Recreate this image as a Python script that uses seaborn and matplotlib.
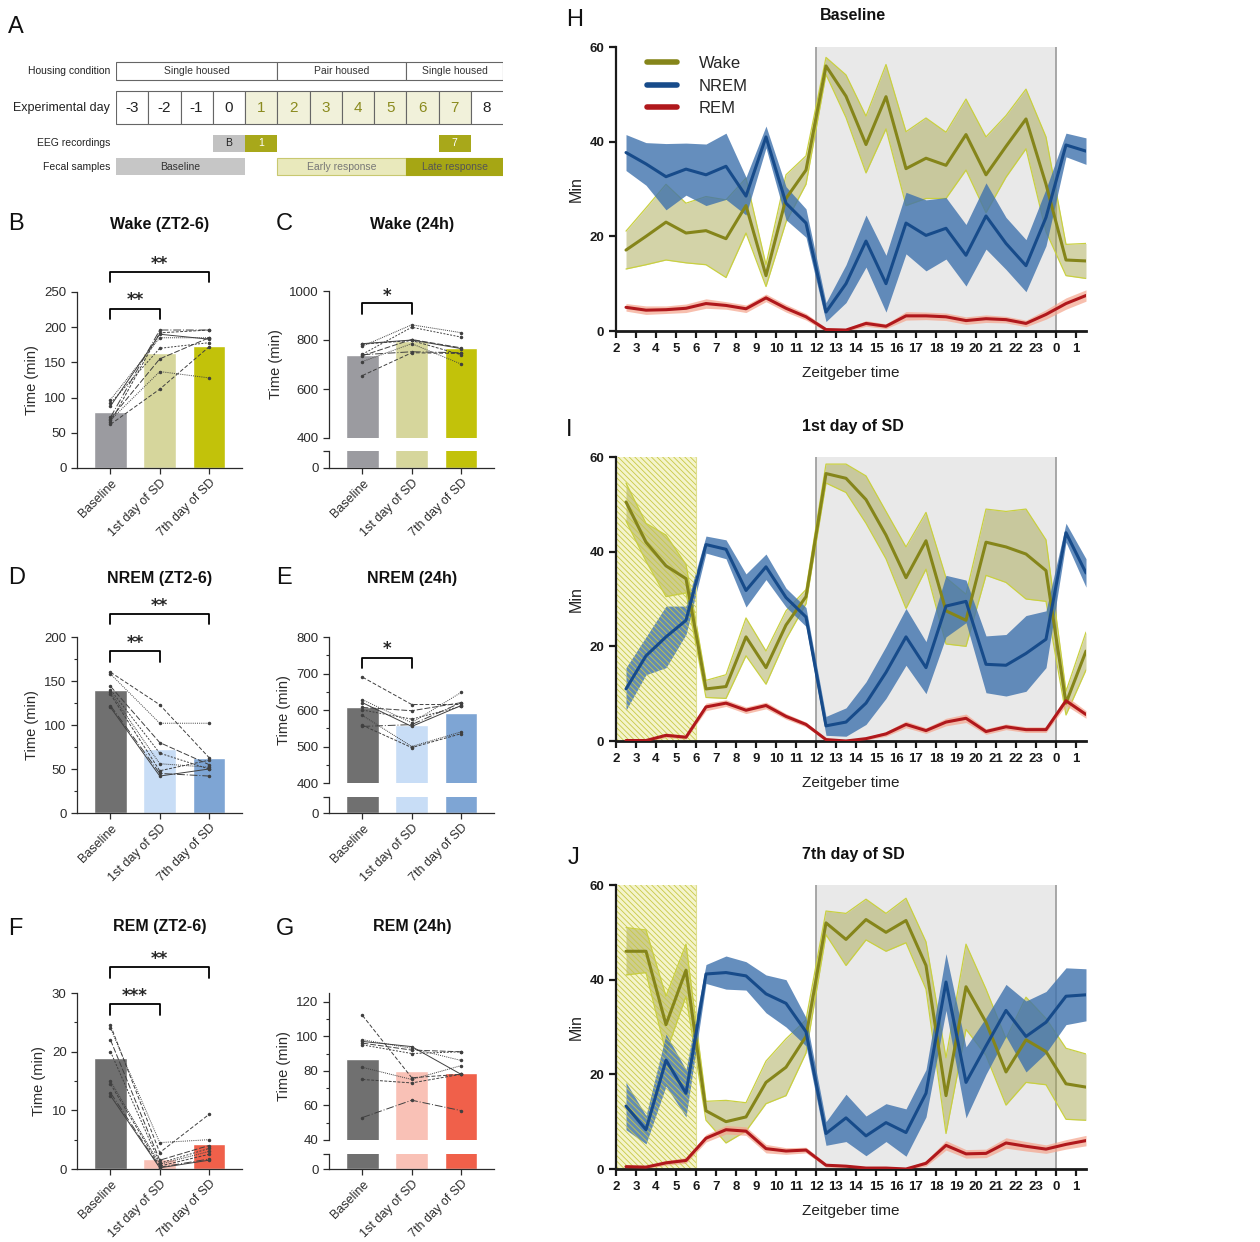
import numpy as np
import pandas as pd
import matplotlib
matplotlib.use('Agg')
import matplotlib.pyplot as plt
import seaborn as sns
from matplotlib.patches import Rectangle
from matplotlib.lines import Line2D

# ---------------- DATA ----------------
conds = ["Baseline", "1st day of SD", "7th day of SD"]

wake_zt_means = [80, 163, 174]
wake_zt_subj = [[62, 112, 172], [68, 137, 128], [70, 155, 185], [92, 170, 178],
                [97, 185, 185], [65, 192, 196], [72, 196, 196], [88, 190, 183]]
wake_24_means = [740, 795, 768]
wake_24_subj = [[655, 748, 745], [712, 785, 702], [736, 802, 768], [742, 852, 812],
                [775, 862, 830], [783, 798, 740], [740, 752, 748], [785, 800, 765]]
nrem_zt_means = [140, 73, 62]
nrem_zt_subj = [[160, 123, 63], [158, 102, 102], [144, 80, 55], [140, 68, 50],
                [137, 56, 52], [135, 48, 60], [122, 45, 42], [120, 42, 50]]
nrem_24_means = [608, 558, 592]
nrem_24_subj = [[690, 615, 615], [628, 565, 648], [607, 598, 620], [600, 575, 610],
                [585, 500, 540], [558, 497, 535], [555, 560, 620], [620, 555, 612]]
rem_zt_means = [19, 1.7, 4.3]
rem_zt_subj = [[24.5, 2.8, 9.3], [24, 4.5, 5], [22, 1.5, 4], [20, 1, 3.5],
               [15, 0.8, 3], [14.5, 0.5, 2.5], [13, 0.3, 1.7], [12.5, 0.2, 1.5]]
rem_24_means = [87, 80, 79]
rem_24_subj = [[112, 76, 78], [98, 93, 86], [96, 92, 91], [95, 90, 91],
               [82, 75, 83], [75, 73, 78], [53, 63, 57], [97, 94, 78]]

zt = [2.5, 3.5, 4.5, 5.5, 6.5, 7.5, 8.5, 9.5, 10.5, 11.5, 12.5, 13.5,
      14.5, 15.5, 16.5, 17.5, 18.5, 19.5, 20.5, 21.5, 22.5, 23.5, 24.5, 25.5]
zt_ticks = list(range(2, 26))
zt_labels = [str(v) for v in range(2, 24)] + ["0", "1"]

# Baseline (H)
h_wake = [17.1, 20, 23, 20.7, 21.2, 19.5, 26.5, 11.7, 28, 34, 56, 49.6,
          39.4, 49.5, 34.3, 36.5, 35, 41.5, 33, 39, 44.8, 31, 15, 14.8]
h_wake_sem = [4, 6, 8, 6.3, 7.2, 8.2, 5.8, 2.3, 5, 3, 1.8, 4.5,
              6, 6.8, 7.8, 8.5, 7, 7.5, 8, 6.5, 6.3, 10, 3.3, 3.7]
h_nrem = [37.7, 35.3, 32.6, 34.2, 33, 34.8, 28.5, 41, 27, 22.8, 4, 10,
          19, 10, 22.8, 20.2, 21.7, 16, 24.3, 18.5, 13.8, 24, 39.3, 38]
h_nrem_sem = [3.8, 4.5, 7, 5.5, 6.5, 7, 4, 2.3, 3.5, 3, 2, 4,
              5.5, 6, 6.5, 7.5, 6.5, 6.5, 7, 5.5, 5.5, 6, 2.5, 2.8]
h_rem = [5, 4.4, 4.5, 4.8, 5.8, 5.4, 4.7, 7, 4.8, 3, 0.3, 0.2,
         1.6, 1, 3.2, 3.2, 3, 2.2, 2.6, 2.4, 1.6, 3.5, 5.8, 7.5]
h_rem_sem = [0.8, 0.9, 0.8, 0.9, 1.0, 0.8, 0.8, 0.8, 0.8, 0.7, 0.4, 0.3,
             0.6, 0.5, 0.9, 0.8, 0.8, 0.8, 0.8, 0.7, 0.7, 1.0, 1.2, 1.2]

# 1st day of SD (I)
i_wake = [50.5, 42, 37, 34.3, 11, 11.5, 22, 15.5, 24.5, 30.5, 56.5, 55.5,
          51, 43.5, 34.5, 42.3, 27.5, 25.5, 42, 41, 39.5, 36, 8, 19]
i_wake_sem = [4, 4, 6.5, 3, 1.8, 2.5, 4, 3.5, 3, 1.5, 2, 3,
              5, 5, 6.5, 6, 7, 5.5, 7, 7.5, 9.5, 6.5, 2.5, 4]
i_nrem = [11, 18, 22, 25.5, 41.5, 40.5, 31.8, 36.8, 30.3, 26.2, 3.2, 4,
          8, 14.5, 22, 15.5, 28.5, 29.5, 16.2, 16, 18.5, 21.5, 44, 35.5]
i_nrem_sem = [4.5, 4, 6.5, 3, 1.8, 2, 3.5, 2.7, 2, 2, 2, 3,
              4.5, 5.5, 6, 5.5, 6.5, 4.5, 6, 6.5, 8, 6, 2, 3]
i_rem = [0.1, 0.1, 1.2, 0.8, 7.2, 8, 6.5, 7.5, 5.2, 3.5, 0.3, 0,
         0.5, 1.5, 3.5, 2.2, 4, 4.8, 2, 3, 2.4, 2.4, 8.5, 5.6]
i_rem_sem = [0.2, 0.2, 0.5, 0.4, 0.8, 0.7, 0.7, 0.7, 0.6, 0.5, 0.3, 0.1,
             0.3, 0.5, 0.7, 0.6, 0.8, 0.9, 0.6, 0.6, 0.6, 0.6, 1.0, 0.8]

# 7th day of SD (J)
j_wake = [46, 46, 30.5, 42, 12.3, 10, 11, 18.3, 21.5, 28, 52, 48.5,
          52.7, 50, 52.5, 43, 15.5, 38.5, 31, 20.5, 27.3, 24.8, 18, 17.3]
j_wake_sem = [5, 4.5, 6, 5.5, 2, 4.5, 3, 4.5, 6, 3.5, 2.5, 5.5,
              4.3, 4, 4.7, 5, 8, 9, 7, 7, 9, 7, 7.5, 7]
j_nrem = [13.3, 8.3, 23, 16, 41.2, 41.5, 40.8, 37, 35, 29, 7.5, 10.8,
          7, 9.8, 7.7, 16, 39.5, 18.3, 26, 33.5, 28, 31, 36.5, 36.8]
j_nrem_sem = [5, 3, 5.5, 5, 2, 3.5, 3, 4, 5, 3, 2.5, 5,
              4.2, 4, 5, 5, 6, 7.5, 6, 5.5, 7.5, 6.5, 6, 5.5]
j_rem = [0.5, 0.4, 1.3, 1.8, 6.5, 8.3, 8, 4.3, 3.8, 4, 0.8, 0.6,
         0.2, 0.2, 0, 1.2, 5, 3.2, 3.3, 5.5, 4.8, 4.2, 5.2, 6]
j_rem_sem = [0.3, 0.3, 0.5, 0.6, 0.8, 0.9, 0.9, 0.9, 0.7, 0.6, 0.4, 0.3,
             0.2, 0.2, 0.2, 0.6, 1.0, 0.9, 0.9, 1.1, 1.0, 0.9, 1.0, 1.1]

# ---------------- STYLE ----------------
W, H = 1260, 1242
sns.set_style("ticks")
plt.rcParams['font.family'] = ['Liberation Sans', 'DejaVu Sans']
plt.rcParams['hatch.linewidth'] = 0.6
fig = plt.figure(figsize=(W / 100, H / 100), dpi=100)


def px_axes(l, t, r, b):
    return fig.add_axes([l / W, 1 - b / H, (r - l) / W, (b - t) / H])


def ptext(x, y, s, **kw):
    fig.text(x / W, 1 - y / H, s, **kw)


DARK = '#2b2b2b'
dash_list = [(0, (4, 2)), (0, (1, 1.2)), (0, (6, 2)), (0, (2, 1.5)),
             (0, (1, 1)), (0, (3, 1.5)), (0, (8, 2, 1, 2)), '-']


def bars(ax, means, colors):
    df = pd.DataFrame({'cond': conds, 'val': means})
    sns.barplot(data=df, x='cond', y='val', hue='cond', palette=colors, ax=ax,
                width=0.66, errorbar=None, legend=False, saturation=1, zorder=1)


def subjects(ax, subj):
    for k, s in enumerate(subj):
        ax.plot([0, 1, 2], s, color='#404040', lw=0.7, ls=dash_list[k],
                marker='o', ms=1.5, zorder=3)


def style_ax(ax):
    sns.despine(ax=ax)
    for sp in ['left', 'bottom']:
        ax.spines[sp].set_color(DARK)
        ax.spines[sp].set_linewidth(0.9)
    ax.tick_params(axis='both', which='major', length=4, width=0.9,
                   colors=DARK, labelsize=9.5)
    ax.tick_params(axis='y', which='minor', length=2.5, width=0.8, colors=DARK)
    ax.set_xlabel('')
    ax.set_xlim(-0.68, 2.67)


def xlabels(ax):
    ax.set_xticks([0, 1, 2])
    ax.set_xticklabels(conds, rotation=45, ha='right', rotation_mode='anchor',
                       fontsize=9, color=DARK)
    ax.tick_params(axis='x', pad=2.5)


def bracket(ax, x0, x1, y, drop, text, ts):
    ax.plot([x0, x0, x1, x1], [y - drop, y, y, y - drop], color='black',
            lw=1.3, clip_on=False, zorder=5)
    ax.annotate(text, xy=((x0 + x1) / 2, ts), xytext=(0, -6.5),
                textcoords='offset points', ha='center', va='baseline',
                fontsize=12, fontweight='bold', family='DejaVu Sans',
                annotation_clip=False)


def simple_panel(l, t, r, b, means, subj, colors, ylim, yticks, minor):
    ax = px_axes(l, t, r, b)
    bars(ax, means, colors)
    subjects(ax, subj)
    style_ax(ax)
    ax.set_ylim(*ylim)
    ax.set_yticks(yticks)
    if minor:
        ax.set_yticks(minor, minor=True)
    ax.set_ylabel('Time (min)', fontsize=10.5, color=DARK)
    xlabels(ax)
    return ax


def r_of(l):
    return l + 165


def broken_panel(l, t, mid, t2, b, means, subj, colors, ylim, yticks, minor):
    ax = px_axes(l, t, r_of(l), mid)
    bars(ax, means, colors)
    subjects(ax, subj)
    style_ax(ax)
    ax.spines['bottom'].set_visible(False)
    ax.tick_params(axis='x', bottom=False, labelbottom=False)
    ax.set_ylim(*ylim)
    ax.set_yticks(yticks)
    if minor:
        ax.set_yticks(minor, minor=True)
    ax.set_ylabel('Time (min)', fontsize=10.5, color=DARK)
    axl = px_axes(l, t2, r_of(l), b)
    bars(axl, means, colors)
    style_ax(axl)
    axl.set_ylim(0, 10)
    axl.set_yticks([0, 10])
    axl.set_yticklabels(['0', ''])
    axl.set_ylabel('')
    xlabels(axl)
    return ax, axl


grey_c = '#9b9ba0'
wake_cols = [grey_c, '#d6d69c', '#c2c20a']
nrem_cols = ['#707070', '#c8ddf6', '#7ea5d4']
rem_cols = ['#707070', '#f9c1b6', '#f0604a']

# B
axB = simple_panel(77, 292, 242, 468, wake_zt_means, wake_zt_subj, wake_cols,
                   (0, 250), [0, 50, 100, 150, 200, 250], None)
bracket(axB, 0, 2, 278, 14, '**', 296)
bracket(axB, 0, 1, 226, 15, '**', 244)
# C
axC, axCl = broken_panel(329, 291, 438, 451, 468, wake_24_means, wake_24_subj,
                         wake_cols, (400, 1000), [400, 600, 800, 1000], None)
bracket(axC, 0, 1, 950, 44, '*', 995)
# D
axD = simple_panel(77, 637, 242, 813, nrem_zt_means, nrem_zt_subj, nrem_cols,
                   (0, 200), [0, 50, 100, 150, 200], [25, 75, 125, 175])
bracket(axD, 0, 2, 226, 11, '**', 240)
bracket(axD, 0, 1, 184, 12, '**', 198)
# E
axE, axEl = broken_panel(329, 637, 783, 797, 813, nrem_24_means, nrem_24_subj,
                         nrem_cols, (400, 800), [400, 500, 600, 700, 800],
                         [450, 550, 650, 750])
bracket(axE, 0, 1, 742, 27, '*', 778)
# F
axF = simple_panel(77, 993, 242, 1169, rem_zt_means, rem_zt_subj, rem_cols,
                   (0, 30), [0, 10, 20, 30], [5, 15, 25])
bracket(axF, 0, 2, 34.4, 1.8, '**', 36.5)
bracket(axF, 0, 1, 28.1, 1.8, '***', 30.1)
# G
axG, axGl = broken_panel(329, 993, 1140, 1154, 1169, rem_24_means, rem_24_subj,
                         rem_cols, (40, 125), [40, 60, 80, 100, 120],
                         [50, 70, 90, 110])

titles = [(160, 224, 'Wake (ZT2-6)'), (412, 224, 'Wake (24h)'),
          (160, 578, 'NREM (ZT2-6)'), (412, 578, 'NREM (24h)'),
          (160, 927, 'REM (ZT2-6)'), (412, 927, 'REM (24h)'),
          (853, 15, 'Baseline'), (853, 426, '1st day of SD'),
          (853, 855, '7th day of SD')]
for x, y, s in titles:
    ptext(x, y, s, ha='center', va='center', fontsize=11.5, fontweight='bold',
          color='#111')

letters = [(8, 27, 'A'), (8, 224, 'B'), (276, 224, 'C'), (8, 578, 'D'),
           (276, 578, 'E'), (8, 929, 'F'), (276, 929, 'G'), (566, 20, 'H'),
           (566, 430, 'I'), (568, 858, 'J')]
for x, y, s in letters:
    ptext(x, y, s, ha='left', va='center', fontsize=17, color='#111')

# ---------------- Panel A (schematic) ----------------
axA = px_axes(116, 55, 503, 180)
axA.set_xlim(-3.5, 8.5)
axA.set_ylim(125, 0)
axA.axis('off')
edge = '#666666'
housing = [(-3.5, 1.5, 'Single housed'), (1.5, 5.5, 'Pair housed'),
           (5.5, 8.5, 'Single housed')]
for x0, x1, s in housing:
    axA.add_patch(Rectangle((x0, 7), x1 - x0, 18, fc='white', ec=edge, lw=0.8))
    axA.text((x0 + x1) / 2, 16, s, ha='center', va='center', fontsize=7.5,
             color='#333')
days = [-3, -2, -1, 0, 1, 2, 3, 4, 5, 6, 7, 8]
for d in days:
    sd = 1 <= d <= 7
    if d == 8:
        axA.add_patch(Rectangle((d - 0.5, 36), 1, 33, fc='white', ec='none'))
        axA.plot([d + 0.5, d - 0.5, d - 0.5, d + 0.5], [36, 36, 69, 69],
                 color=edge, lw=0.8)
    else:
        axA.add_patch(Rectangle((d - 0.5, 36), 1, 33,
                                fc='#f1f1da' if sd else 'white', ec=edge, lw=0.8))
    axA.text(d, 52.5, str(d), ha='center', va='center', fontsize=11,
             color='#8a8a1e' if sd else '#222')
eeg = [(0, 'B', '#c2c2c2', '#222'), (1, '1', '#a8a81a', 'white'),
       (7, '7', '#a8a81a', 'white')]
for d, s, fc, tc in eeg:
    axA.add_patch(Rectangle((d - 0.5, 80), 1, 17, fc=fc, ec='none'))
    axA.text(d, 88.5, s, ha='center', va='center', fontsize=7.5, color=tc)
fecal = [(-3.5, 0.5, 'Baseline', '#c6c6c6', 'none', '#333'),
         (1.5, 5.5, 'Early response', '#e9e9bc', '#c8c870', '#777'),
         (5.5, 8.5, 'Late response', '#a6a614', '#a6a614', '#555')]
for x0, x1, s, fc, ec, tc in fecal:
    axA.add_patch(Rectangle((x0, 103), x1 - x0, 17, fc=fc, ec=ec, lw=0.8))
    axA.text((x0 + x1) / 2, 111.5, s, ha='center', va='center', fontsize=7.5,
             color=tc)
rows = [(16, 'Housing condition', 7.5), (52.5, 'Experimental day', 9),
        (88.5, 'EEG recordings', 7.5), (111.5, 'Fecal samples', 7.5)]
for y, s, fs in rows:
    axA.text(-3.68, y, s, ha='right', va='center', fontsize=fs, color='#222',
             clip_on=False)

# ---------------- Time-course panels ----------------
wake_line, wake_fill, wake_edge = '#85851a', '#a8a852', '#c9d040'
nrem_line, nrem_fill = '#174b8a', '#3f72ad'
rem_line, rem_fill = '#b0181c', '#f5a48c'


def ts_panel(t, b, wm, ws, nm, ns, rm, rs, sd, legend=False):
    ax = px_axes(616, t, 1086, b)
    ax.axvspan(12, 24, color='#e9e9e9', lw=0, zorder=0)
    ax.axvline(12, color='#9a9a9a', lw=1.2, zorder=0.5)
    ax.axvline(24, color='#9a9a9a', lw=1.2, zorder=0.5)
    if sd:
        ax.axvspan(2, 6, facecolor='#f4f4cc', lw=0, zorder=0)
    wm, ws = np.array(wm), np.array(ws)
    nm, ns = np.array(nm), np.array(ns)
    rm, rs = np.array(rm), np.array(rs)
    ax.fill_between(zt, wm - ws, wm + ws, color=wake_fill, alpha=0.5, lw=0, zorder=1)
    ax.plot(zt, wm - ws, color=wake_edge, lw=0.9, zorder=1.1)
    ax.plot(zt, wm + ws, color=wake_edge, lw=0.9, zorder=1.1)
    ax.fill_between(zt, nm - ns, nm + ns, color=nrem_fill, alpha=0.8, lw=0, zorder=1.2)
    ax.fill_between(zt, rm - rs, rm + rs, color=rem_fill, alpha=0.7, lw=0, zorder=1.3)
    if sd:
        ax.axvspan(2, 6, facecolor='none', edgecolor='#c8c846',
                   hatch='\\\\\\\\\\\\', lw=0, zorder=1.5)
        ax.axvline(6, ymax=1, color='#dede90', lw=0.8, zorder=1.5)
    sns.lineplot(x=zt, y=wm, ax=ax, color=wake_line, lw=2.2, zorder=3)
    sns.lineplot(x=zt, y=nm, ax=ax, color=nrem_line, lw=2.2, zorder=3)
    sns.lineplot(x=zt, y=rm, ax=ax, color=rem_line, lw=2.2, zorder=3)
    ax.set_xlim(2, 25.5)
    ax.set_ylim(0, 60)
    ax.set_xticks(zt_ticks)
    ax.set_xticklabels(zt_labels)
    ax.set_yticks([0, 20, 40, 60])
    sns.despine(ax=ax)
    ax.spines['left'].set_linewidth(1.6)
    ax.spines['bottom'].set_linewidth(2.0)
    for sp in ['left', 'bottom']:
        ax.spines[sp].set_color('#1a1a1a')
    ax.tick_params(length=5, width=1.6, colors='#1a1a1a', labelsize=9.5)
    for lab in ax.get_xticklabels() + ax.get_yticklabels():
        lab.set_fontweight('bold')
    ax.set_xlabel('Zeitgeber time', fontsize=11, color='#222', labelpad=8)
    ax.set_ylabel('Min', fontsize=11.5, color='#222', labelpad=4)
    if legend:
        handles = [Line2D([], [], color=wake_line, lw=4),
                   Line2D([], [], color=nrem_line, lw=4),
                   Line2D([], [], color=rem_line, lw=4)]
        ax.legend(handles, ['Wake', 'NREM', 'REM'], loc='upper left',
                  bbox_to_anchor=(0.035, 1.02), frameon=False, fontsize=12,
                  handlelength=1.8, handletextpad=1.3, labelspacing=0.45)
    return ax


ts_panel(47, 331, h_wake, h_wake_sem, h_nrem, h_nrem_sem, h_rem, h_rem_sem,
         False, legend=True)
ts_panel(457, 741, i_wake, i_wake_sem, i_nrem, i_nrem_sem, i_rem, i_rem_sem, True)
ts_panel(885, 1169, j_wake, j_wake_sem, j_nrem, j_nrem_sem, j_rem, j_rem_sem, True)

fig.savefig('out.png', dpi=100)
